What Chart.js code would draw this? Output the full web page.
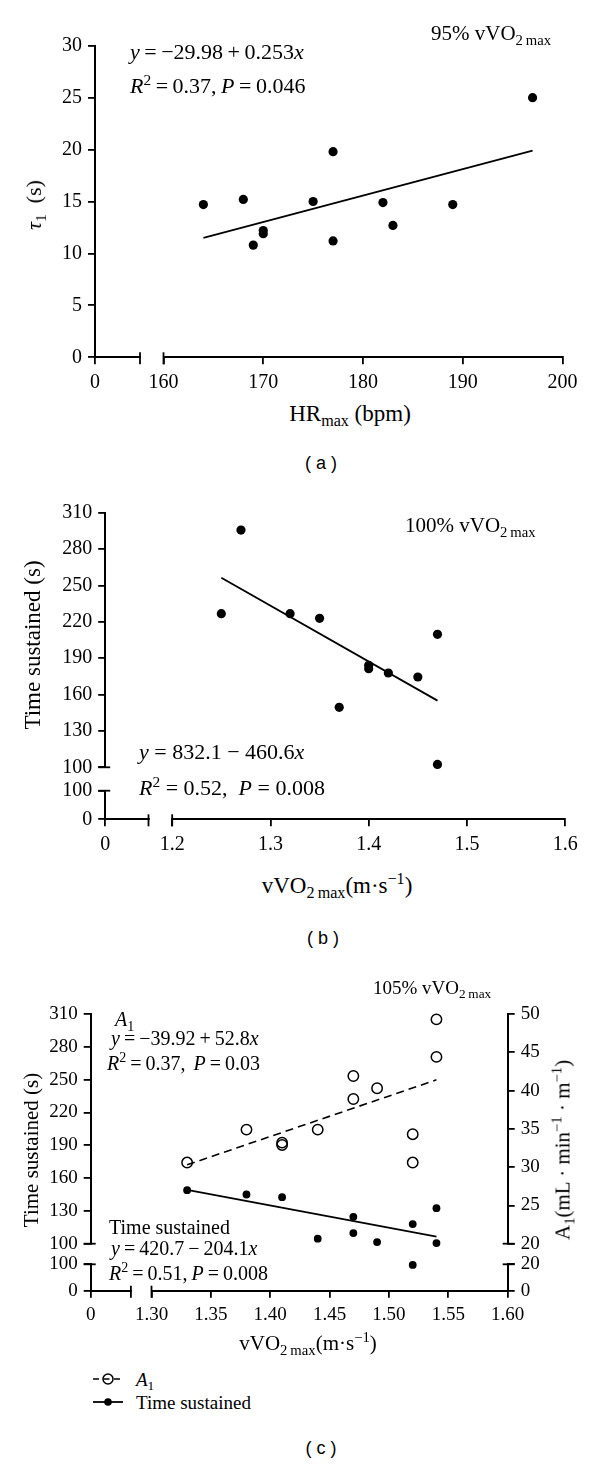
<!doctype html>
<html lang="en">
<head>
<meta charset="utf-8">
<title>Time constant, time sustained and A1 vs vVO2max</title>
<style>
  * { margin: 0; padding: 0; }
  body {
    width: 600px; height: 1465px; position: relative; overflow: hidden;
    background: #fff; color: #000;
    font-family: "Liberation Serif", "Times New Roman", serif;
  }
  canvas { position: absolute; left: 0; }
  .t { position: absolute; white-space: nowrap; line-height: 1; transform: translateY(-50%); }
  .c { transform: translate(-50%, -50%); }
  .rot { transform: translate(-50%, -50%) rotate(-90deg); }
  .cap { font-family: "Liberation Sans", Arial, sans-serif; font-size: 18px; }
  sub, sup { font-size: 0.7em; line-height: 0; }
  .legend svg { position: absolute; }
</style>
</head>
<body>
  <canvas id="chartA" width="600" height="400" style="top:0px"></canvas>
  <canvas id="chartB" width="600" height="380" style="top:480px"></canvas>
  <canvas id="chartC" width="600" height="340" style="top:990px"></canvas>

  <!-- panel (a) -->
  <div class="t" style="left:431px; top:33px; font-size:21px">95% vVO<sub>2&#8201;max</sub></div>
  <div class="t" style="left:130px; top:52px; font-size:22px; word-spacing:-1px"><i>y</i> = &minus;29.98 + 0.253<i>x</i></div>
  <div class="t" style="left:130px; top:86px; font-size:22px; word-spacing:-1px"><i>R</i><sup>2</sup> = 0.37, <i>P</i> = 0.046</div>
  <div class="t rot" style="left:34px; top:205px; font-size:22px"><i>&tau;</i><sub>1</sub>&nbsp; (s)</div>
  <div class="t c" style="left:350px; top:413px; font-size:23px">HR<sub>max</sub> (bpm)</div>
  <div class="t c cap" style="left:321px; top:463px">( a )</div>

  <!-- panel (b) -->
  <div class="t" style="left:405px; top:525px; font-size:21px">100% vVO<sub>2&#8201;max</sub></div>
  <div class="t" style="left:139px; top:752px; font-size:22px"><i>y</i> = 832.1 &minus; 460.6<i>x</i></div>
  <div class="t" style="left:139px; top:788px; font-size:22px"><i>R</i><sup>2</sup> = 0.52,&nbsp; <i>P</i> = 0.008</div>
  <div class="t rot" style="left:32px; top:645px; font-size:23px">Time sustained (s)</div>
  <div class="t c" style="left:337px; top:885px; font-size:23px">vVO<sub>2&#8201;max</sub>(m&middot;s<sup>&minus;1</sup>)</div>
  <div class="t c cap" style="left:323px; top:938px">( b )</div>

  <!-- panel (c) -->
  <div class="t" style="left:373px; top:987px; font-size:19px">105% vVO<sub>2&#8201;max</sub></div>
  <div class="t" style="left:115px; top:1019px; font-size:20px"><i>A</i><sub>1</sub></div>
  <div class="t" style="left:111px; top:1038px; font-size:20px; word-spacing:-1px"><i>y</i> = &minus;39.92 + 52.8<i>x</i></div>
  <div class="t" style="left:107px; top:1063px; font-size:20px; word-spacing:-1px"><i>R</i><sup>2</sup> = 0.37,&nbsp; <i>P</i> = 0.03</div>
  <div class="t" style="left:109px; top:1227px; font-size:20px">Time sustained</div>
  <div class="t" style="left:111px; top:1248px; font-size:20px; word-spacing:-1px"><i>y</i> = 420.7 &minus; 204.1<i>x</i></div>
  <div class="t" style="left:109px; top:1273px; font-size:20px; word-spacing:-1px"><i>R</i><sup>2</sup> = 0.51, <i>P</i> = 0.008</div>
  <div class="t rot" style="left:31px; top:1150px; font-size:21px">Time sustained (s)</div>
  <div class="t rot" style="left:563px; top:1150px; font-size:21px">A<sub>1</sub>(mL &middot; min<sup>&minus;1</sup> &middot; m<sup>&minus;1</sup>)</div>
  <div class="t c" style="left:308px; top:1343px; font-size:21px">vVO<sub>2&#8201;max</sub>(m&middot;s<sup>&minus;1</sup>)</div>

  <div class="legend">
    <svg width="32" height="14" style="left:92px; top:1372px">
      <line x1="1" y1="7" x2="31" y2="7" stroke="#000" stroke-width="1.6" stroke-dasharray="6 4.5"/>
      <circle cx="16" cy="7" r="5" fill="none" stroke="#000" stroke-width="1.5"/>
    </svg>
    <div class="t" style="left:136px; top:1379px; font-size:19px"><i>A</i><sub>1</sub></div>
    <svg width="32" height="14" style="left:92px; top:1395px">
      <line x1="1" y1="7" x2="31" y2="7" stroke="#000" stroke-width="1.8"/>
      <circle cx="16" cy="7" r="3.8" fill="#000"/>
    </svg>
    <div class="t" style="left:136px; top:1402px; font-size:19px">Time sustained</div>
  </div>
  <div class="t c cap" style="left:321px; top:1448px">( c )</div>

  <script src="https://cdn.jsdelivr.net/npm/chart.js"></script>
  <script>
    // ---- data (a): tau1 vs HRmax at 95% vVO2max
    const hrMax = [164, 168, 169, 170, 170, 175, 177, 177, 182, 183, 189, 197];
    const tau1 = [14.7, 15.2, 10.8, 12.2, 11.9, 15.0, 19.8, 11.2, 14.9, 12.7, 14.7, 25.0];
    const fitAx = [164, 197];
    const fitAy = [11.5, 19.9];

    // ---- data (b): time sustained vs vVO2max at 100%
    const vvoB = [1.25, 1.27, 1.32, 1.35, 1.37, 1.40, 1.40, 1.42, 1.45, 1.47, 1.47];
    const timeB = [226.7, 295.7, 226.7, 222.9, 149.5, 184.1, 181.3, 177.8, 174.5, 209.7, 102.4];
    const fitBx = [1.25, 1.47];
    const fitBy = [256.3, 155.0];

    // ---- data (c): A1 and time sustained vs vVO2max at 105%
    const vvoA1 = [1.33, 1.38, 1.41, 1.41, 1.44, 1.47, 1.47, 1.49, 1.52, 1.52, 1.54, 1.54];
    const a1 = [30.6, 34.9, 33.2, 32.9, 34.9, 38.9, 41.9, 40.3, 34.3, 30.6, 44.4, 49.3];
    const vvoT = [1.33, 1.38, 1.41, 1.44, 1.47, 1.47, 1.49, 1.52, 1.52, 1.54, 1.54];
    const timeC = [148.9, 145.0, 142.5, 104.6, 124.6, 109.7, 101.5, 117.9, 97.5, 132.5, 100.6];
    const fitA1x = [1.33, 1.54];
    const fitA1y = [30.3, 41.4];
    const fitTx = [1.33, 1.54];
    const fitTy = [149.3, 106.4];

    // tick labels
    const xTicksA = [160, 170, 180, 190, 200];
    const yTicksA = [0, 5, 10, 15, 20, 25, 30];
    const xTicksB = [1.2, 1.3, 1.4, 1.5, 1.6];
    const timeTicks = [100, 130, 160, 190, 220, 250, 280, 310];
    const xTicksC = [1.30, 1.35, 1.40, 1.45, 1.50, 1.55, 1.60];
    const a1Ticks = [20, 25, 30, 35, 40, 45, 50];

    const pts = (xs, ys) => xs.map((x, i) => ({ x, y: ys[i] }));

    Chart.defaults.font.family = '"Liberation Serif", "Times New Roman", serif';
    Chart.defaults.color = '#000';

    function fixSize(size) {
      return s => {
        if (s.isHorizontal()) s.height = size; else s.width = size;
        s.paddingLeft = s.paddingRight = s.paddingTop = s.paddingBottom = 0;
      };
    }

    // one visible axis segment
    function axis(o) {
      return {
        type: 'linear', axis: o.position === 'bottom' ? 'x' : 'y',
        position: o.position, min: o.min, max: o.max,
        weight: o.weight || 0, stack: o.stack, stackWeight: o.stackWeight || 1,
        afterBuildTicks: s => { s.ticks = o.ticks.map(v => ({ value: v })); },
        afterFit: fixSize(o.size),
        grid: { drawOnChartArea: false, drawTicks: true, tickLength: 7, color: '#000', lineWidth: 1.8 },
        border: { display: true, color: '#000', width: 2 },
        ticks: {
          color: '#000', padding: 6, autoSkip: false, maxRotation: 0,
          font: { size: o.font },
          callback: v => o.fmt ? o.fmt(v) : String(v)
        }
      };
    }

    // empty scale used as the gap of a broken axis
    function gap(position, size, weight, stack, stackWeight) {
      return {
        type: 'linear', axis: position === 'bottom' ? 'x' : 'y',
        position, min: 0, max: 1, weight, stack, stackWeight,
        afterFit: fixSize(size),
        grid: { display: false }, border: { display: false }, ticks: { display: false }
      };
    }

    // small bars closing each segment of a broken axis
    const breakCaps = {
      id: 'breakCaps',
      afterDraw(chart, args, opts) {
        const ctx = chart.ctx;
        ctx.save();
        ctx.strokeStyle = '#000';
        ctx.lineWidth = 1.8;
        for (const [id, v] of opts.caps || []) {
          const s = chart.scales[id];
          const p = s.getPixelForValue(v);
          ctx.beginPath();
          if (s.isHorizontal()) {
            ctx.moveTo(p, s.top - 5); ctx.lineTo(p, s.top + 7);
          } else if (s.position === 'left') {
            ctx.moveTo(s.right - 7, p); ctx.lineTo(s.right + 5, p);
          } else {
            ctx.moveTo(s.left - 5, p); ctx.lineTo(s.left + 7, p);
          }
          ctx.stroke();
        }
        ctx.restore();
      }
    };

    const base = {
      responsive: false, animation: false, events: [],
      plugins: { legend: { display: false }, tooltip: { enabled: false } }
    };

    const dots = (data, r, extra) => Object.assign({
      data, xAxisID: 'x', yAxisID: 'y', pointRadius: r,
      pointBackgroundColor: '#000', pointBorderColor: '#000',
      pointBorderWidth: 0, showLine: false, clip: false
    }, extra || {});
    const fitLine = (data, extra) => Object.assign({
      data, xAxisID: 'x', yAxisID: 'y', showLine: true, pointRadius: 0,
      borderColor: '#000', borderWidth: 1.8, clip: false
    }, extra || {});

    // ---------- (a)
    new Chart(document.getElementById('chartA'), {
      type: 'scatter',
      data: {
        datasets: [
          dots(pts(hrMax, tau1), 4.6),
          fitLine(pts(fitAx, fitAy))
        ]
      },
      options: Object.assign({}, base, {
        layout: { padding: { top: 45.7, right: 37.5, left: 0, bottom: 0 } },
        scales: {
          x0: axis({ position: 'bottom', min: 0, max: 1, ticks: [0], size: 42.7, font: 20, weight: 1, stack: 'x', stackWeight: 45 }),
          xg: gap('bottom', 42.7, 2, 'x', 23.5),
          x: axis({ position: 'bottom', min: 160, max: 200, ticks: xTicksA, size: 42.7, font: 20, weight: 3, stack: 'x', stackWeight: 399 }),
          y: axis({ position: 'left', min: 0, max: 30, ticks: yTicksA, size: 95, font: 20 })
        },
        plugins: Object.assign({}, base.plugins, { breakCaps: { caps: [['x0', 1], ['x', 160]] } })
      }),
      plugins: [breakCaps]
    });

    // ---------- (b)
    new Chart(document.getElementById('chartB'), {
      type: 'scatter',
      data: {
        datasets: [
          dots(pts(vvoB, timeB), 4.6),
          fitLine(pts(fitBx, fitBy))
        ]
      },
      options: Object.assign({}, base, {
        layout: { padding: { top: 32.7, right: 34.8, left: 0, bottom: 0 } },
        scales: {
          x0: axis({ position: 'bottom', min: 0, max: 1, ticks: [0], size: 40.7, font: 20, weight: 1, stack: 'x', stackWeight: 43.3 }),
          xg: gap('bottom', 40.7, 2, 'x', 23.7),
          x: axis({ position: 'bottom', min: 1.2, max: 1.6, ticks: xTicksB, size: 40.7, font: 20, weight: 3, stack: 'x', stackWeight: 393, fmt: v => v.toFixed(1) }),
          y: axis({ position: 'left', min: 100, max: 310, ticks: timeTicks, size: 105.2, font: 20, weight: 3, stack: 'y', stackWeight: 254.6 }),
          yg: gap('left', 105.2, 2, 'y', 23.4),
          y0: axis({ position: 'left', min: 0, max: 100, ticks: [0, 100], size: 105.2, font: 20, weight: 1, stack: 'y', stackWeight: 28.6 })
        },
        plugins: Object.assign({}, base.plugins, { breakCaps: { caps: [['x0', 1], ['x', 1.2], ['y', 100], ['y0', 100]] } })
      }),
      plugins: [breakCaps]
    });

    // ---------- (c)
    const tUpper = pts(vvoT, timeC).filter(p => p.y >= 100);
    const tLower = pts(vvoT, timeC).filter(p => p.y < 100);
    new Chart(document.getElementById('chartC'), {
      type: 'scatter',
      data: {
        datasets: [
          dots(pts(vvoA1, a1), 5.2, { yAxisID: 'yA1', pointBackgroundColor: 'rgba(0,0,0,0)', pointBorderWidth: 1.5 }),
          fitLine(pts(fitA1x, fitA1y), { yAxisID: 'yA1', borderDash: [8, 5], borderWidth: 1.6 }),
          dots(tUpper, 3.9),
          dots(tLower, 3.9, { yAxisID: 'y0' }),
          fitLine(pts(fitTx, fitTy))
        ]
      },
      options: Object.assign({}, base, {
        layout: { padding: { top: 24, right: 42.3, left: 0, bottom: 0 } },
        scales: {
          x0: axis({ position: 'bottom', min: 0, max: 1, ticks: [0], size: 39.3, font: 19, weight: 1, stack: 'x', stackWeight: 40.2 }),
          xg: gap('bottom', 39.3, 2, 'x', 20.6),
          x: axis({ position: 'bottom', min: 1.3, max: 1.6, ticks: xTicksC, size: 39.3, font: 19, weight: 3, stack: 'x', stackWeight: 356.2, fmt: v => v.toFixed(2) }),
          y: axis({ position: 'left', min: 100, max: 310, ticks: timeTicks, size: 90.7, font: 19, weight: 3, stack: 'y', stackWeight: 229.7 }),
          yg: gap('left', 90.7, 2, 'y', 20.6),
          y0: axis({ position: 'left', min: 0, max: 100, ticks: [0, 100], size: 90.7, font: 19, weight: 1, stack: 'y', stackWeight: 26.4 }),
          yA1: axis({ position: 'right', min: 20, max: 50, ticks: a1Ticks, size: 50, font: 19, weight: 1, stack: 'a1', stackWeight: 229.7 }),
          yA1g: gap('right', 50, 2, 'a1', 20.6),
          yA10: axis({ position: 'right', min: 0, max: 20, ticks: [0, 20], size: 50, font: 19, weight: 3, stack: 'a1', stackWeight: 26.4 })
        },
        plugins: Object.assign({}, base.plugins, {
          breakCaps: { caps: [['x0', 1], ['x', 1.3], ['y', 100], ['y0', 100], ['yA1', 20], ['yA10', 20]] }
        })
      }),
      plugins: [breakCaps]
    });
  </script>
</body>
</html>
